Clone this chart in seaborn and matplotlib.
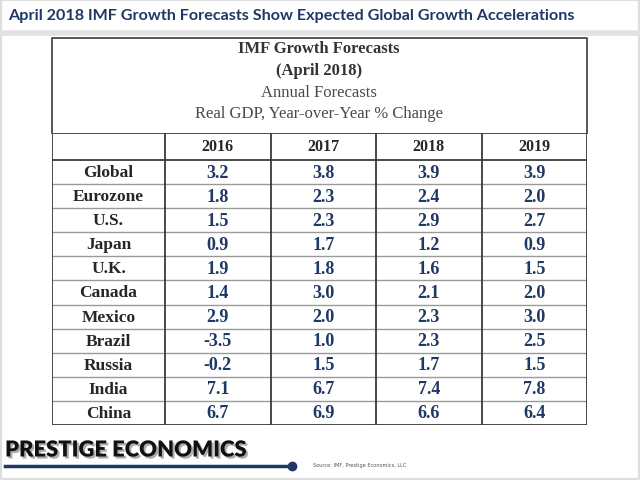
import pandas as pd
import matplotlib.pyplot as plt
import seaborn as sns
from matplotlib.colors import ListedColormap
from matplotlib.patches import Rectangle
from matplotlib.lines import Line2D
import matplotlib.patheffects as pe

# Data
countries = ["Global", "Eurozone", "U.S.", "Japan", "U.K.", "Canada",
             "Mexico", "Brazil", "Russia", "India", "China"]
years = ["2016", "2017", "2018", "2019"]
g2016 = [3.2, 1.8, 1.5, 0.9, 1.9, 1.4, 2.9, -3.5, -0.2, 7.1, 6.7]
g2017 = [3.8, 2.3, 2.3, 1.7, 1.8, 3.0, 2.0, 1.0, 1.5, 6.7, 6.9]
g2018 = [3.9, 2.4, 2.9, 1.2, 1.6, 2.1, 2.3, 2.3, 1.7, 7.4, 6.6]
g2019 = [3.9, 2.0, 2.7, 0.9, 1.5, 2.0, 3.0, 2.5, 1.5, 7.8, 6.4]

title = "April 2018 IMF Growth Forecasts Show Expected Global Growth Accelerations"
header_lines = ["IMF Growth Forecasts", "(April 2018)", "Annual Forecasts",
                "Real GDP, Year-over-Year % Change"]
brand = "PRESTIGE ECONOMICS"
source = "Source: IMF, Prestige Economics, LLC"

df = pd.DataFrame(dict(zip(years, [g2016, g2017, g2018, g2019])), index=countries)

NAVY = "#1f3864"
DARK = "#262626"
SERIF = "Liberation Serif"

W, H = 640, 481
fig = plt.figure(figsize=(6.4, 4.81), dpi=100)
fig.patch.set_facecolor("white")


def fx(px):
    return px / W


def fy(py):
    return 1 - py / H


# table grid: x 52-587 px, y 134-426 px
ax = fig.add_axes([fx(52), fy(426), fx(587) - fx(52), fy(134) - fy(426)])
sns.heatmap(df, ax=ax, cmap=ListedColormap(["white"]), cbar=False,
            annot=True, fmt=".1f", xticklabels=False, yticklabels=False,
            annot_kws=dict(color=NAVY, fontsize=13, fontweight="bold",
                           family=SERIF))
lab_w = 113 / 105.5
head_h = 27 / 24.1
ax.set_xlim(-lab_w, len(years))
ax.set_ylim(len(countries), -head_h)
ax.axis("off")

for i, name in enumerate(countries):
    ax.text(-lab_w / 2, i + 0.5, name, ha="center", va="center",
            fontsize=12.5, fontweight="bold", family=SERIF, color=DARK)
for j, yr in enumerate(years):
    ax.text(j + 0.5, -head_h / 2, yr, ha="center", va="center",
            fontsize=11.5, fontweight="bold", family=SERIF, color=DARK)

# grid lines
ax.hlines(range(1, len(countries)), -lab_w, len(years), color="#9a9a9a", lw=1)
ax.hlines([-head_h, 0, len(countries)], -lab_w, len(years), color="#3a3a3a", lw=1.3)
ax.vlines([-lab_w] + list(range(len(years) + 1)), -head_h, len(countries),
          color="#3a3a3a", lw=1.3)

# box above the table
fig.add_artist(Line2D([fx(52), fx(52), fx(587), fx(587)],
                      [fy(134), fy(39), fy(39), fy(134)],
                      color="#4a4a4a", lw=1.3))

hy = [49, 71, 93, 114]
for k, (txt, y) in enumerate(zip(header_lines, hy)):
    bold = k < 2
    fig.text(fx(319), fy(y), txt, ha="center", va="center", family=SERIF,
             fontsize=12, fontweight="bold" if bold else "normal",
             color="#333333" if bold else "#4a4a4a")

# outer frame and title bar
fig.add_artist(Rectangle((0, 0), 1, 1, transform=fig.transFigure, fill=False,
                         ec="#dedede", lw=3))
fig.add_artist(Line2D([0, 1], [fy(34), fy(34)], color="#e2e2e2", lw=4))

t = fig.text(fx(8), fy(16), title, ha="left", va="center", family="Lato",
             fontweight="bold", fontsize=13, color=NAVY)

b = fig.text(fx(5), fy(451), brand, ha="left", va="center", family="Lato",
             fontweight="heavy", fontsize=15, color="#111111")
b.set_path_effects([pe.SimplePatchShadow(offset=(1.5, -1.5), shadow_rgbFace="#777777",
                                         alpha=0.6), pe.Normal()])

# fit title/brand widths to the reference
fig.canvas.draw()
w = t.get_window_extent().width
t.set_fontsize(13 * 567 / w)
w = b.get_window_extent().width
b.set_fontsize(15 * 243 / w)

fig.add_artist(Line2D([fx(5), fx(292)], [fy(467), fy(467)], color=NAVY, lw=2.5))
fig.add_artist(Line2D([fx(292)], [fy(467)], color=NAVY, marker="o", markersize=6))
fig.text(fx(313), fy(466), source, ha="left", va="center", fontsize=3.6,
         color="#555555")

fig.savefig("out.png", dpi=100)
